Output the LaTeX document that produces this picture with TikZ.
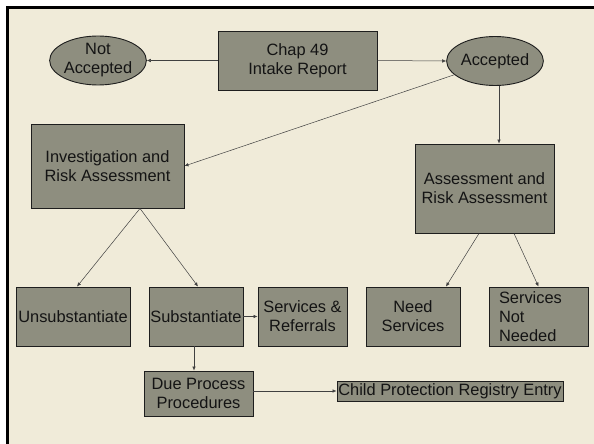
\documentclass[tikz,border=0pt]{standalone}
\usepackage{fontspec}
\setmainfont{Liberation Sans}
\usetikzlibrary{arrows.meta,shapes.geometric}
\definecolor{cream}{RGB}{240,235,217}
\definecolor{boxfill}{RGB}{142,142,127}
\definecolor{edge}{RGB}{30,30,30}
\begin{document}
\begin{tikzpicture}[x=1bp,y=-1bp,
  every node/.style={font=\fontsize{16.4bp}{19bp}\selectfont, text={rgb,255:red,20;green,20;blue,20}},
  box/.style={draw=edge, line width=0.9bp, fill=boxfill, inner sep=1bp, align=center},
  oval/.style={ellipse, draw=edge, line width=0.9bp, fill=boxfill, inner sep=0pt, align=center},
  conn/.style={draw=edge!85, line width=0.5bp, -{Latex[length=4bp,width=3.5bp]}}]
% page and frame
\fill[white] (0,0) rectangle (594,444);
\useasboundingbox (0,0) rectangle (594,444);
\fill[cream] (6,6) rectangle (594,444);
\draw[black, line width=3bp] (7.5,444) -- (7.5,7.5) -- (594,7.5);
% nodes
\node[box, minimum width=159bp, minimum height=59bp] (chap) at (297.5,60.5) {Chap 49\\Intake Report};
\node[oval, minimum width=84bp, minimum height=49bp] (na) at (98,60.5) {Not\\Accepted};
\node[oval, minimum width=89bp, minimum height=49bp] (acc) at (495,61) {Accepted};
\node[box, minimum width=153bp, minimum height=84bp] (inv) at (107.5,166) {Investigation and\\Risk Assessment};
\node[box, minimum width=139bp, minimum height=89bp] (ass) at (484.5,188.5) {Assessment and\\Risk Assessment};
\node[box, minimum width=114bp, minimum height=59bp] (uns) at (73,316.5) {Unsubstantiate};
\node[box, minimum width=94bp, minimum height=59bp] (sub) at (196,316.5) {Substantiate};
\node[box, minimum width=89bp, minimum height=59bp] (srv) at (302.5,316.5) {Services \&\\Referrals};
\node[box, minimum width=94bp, minimum height=59bp] (need) at (413,316.5) {Need\\Services};
\node[box, minimum height=59bp, text width=79bp, inner xsep=10bp, align=left] (snn) at (538.5,316.5) {Services\\Not\\Needed};
\node[box, minimum width=109bp, minimum height=45bp] (dp) at (198.5,393.5) {Due Process\\Procedures};
\node[box, minimum width=226bp, minimum height=20bp, inner ysep=0pt] (cpr) at (450,391) {Child Protection Registry Entry};
% connectors
\draw[conn] (chap.west) -- (na.east);
\draw[conn] (chap.east) -- (acc.west);
\draw[conn] (acc) -- (inv.east);
\draw[conn] ([xshift=4bp]acc.south) -- ([xshift=4bp]acc.south |- ass.north);
\draw[conn] ([xshift=32.5bp]inv.south) -- ([xshift=4bp]uns.north);
\draw[conn] ([xshift=32.5bp]inv.south) -- ([xshift=2bp]sub.north);
\draw[conn] ([xshift=-5.5bp]ass.south) -- ([xshift=33bp]need.north);
\draw[conn] ([xshift=29.5bp]ass.south) -- (snn.north);
\draw[conn] (sub.east) -- (srv.west);
\draw[conn] ([xshift=-2bp]sub.south) -- ([xshift=-2bp]sub.south |- dp.north);
\draw[conn] (cpr.west -| dp.east) -- (cpr.west);
\end{tikzpicture}
\end{document}
